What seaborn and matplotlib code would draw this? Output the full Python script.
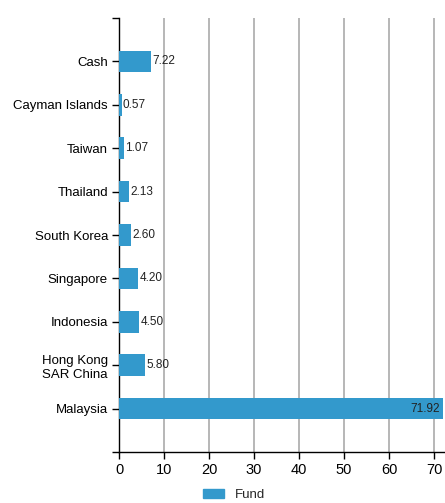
import matplotlib
matplotlib.use('Agg')
import matplotlib.pyplot as plt
import seaborn as sns
from matplotlib.patches import Patch

# data
categories = ['Cash', 'Cayman Islands', 'Taiwan', 'Thailand', 'South Korea',
              'Singapore', 'Indonesia', 'Hong Kong\nSAR China', 'Malaysia']
values = [7.22, 0.57, 1.07, 2.13, 2.60, 4.20, 4.50, 5.80, 71.92]
value_labels = ['7.22', '0.57', '1.07', '2.13', '2.60', '4.20', '4.50', '5.80', '71.92']
x_ticks = [0, 10, 20, 30, 40, 50, 60, 70]
series_name = 'Fund'
bar_color = '#3399cc'

sns.set_style('white')
plt.rcParams['font.family'] = ['Liberation Sans', 'DejaVu Sans']

fig = plt.figure(figsize=(4.45, 5.03), dpi=100)
# axes runs off the right edge like the reference
ax = fig.add_axes([119 / 445, 51 / 503, 334 / 445, 434 / 503])

sns.barplot(x=values, y=categories, color=bar_color, orient='h', width=0.5,
            saturation=1, linewidth=0, edgecolor='none', ax=ax, zorder=3)

ax.set_xlim(0, 74.2)
ax.set_ylim(8 + 1, -1)
ax.set_xticks(x_ticks)
ax.set_xticklabels([str(t) for t in x_ticks], fontsize=10.5, color='black')
ax.set_yticks(range(len(categories)))
ax.set_yticklabels(categories, fontsize=9.5, color='black')
ax.tick_params(axis='y', left=True, length=5, width=1, color='black', pad=3)
ax.tick_params(axis='x', bottom=True, length=5, width=1, color='black', pad=3)
ax.set_yticks([-1, 9], minor=True)
ax.tick_params(axis='y', which='minor', left=True, length=5, width=1, color='black')

for x in x_ticks[1:]:
    ax.axvline(x, color='#aaaaaa', lw=1.2, zorder=1)

for s in ['top', 'right']:
    ax.spines[s].set_visible(False)
for s in ['left', 'bottom']:
    ax.spines[s].set_color('black')
    ax.spines[s].set_linewidth(1)

# value labels
for i, (v, lab) in enumerate(zip(values, value_labels)):
    if v > 60:
        ax.text(v - 0.6, i, lab, va='center', ha='right', fontsize=8.5, color='#222222', zorder=4)
    else:
        ax.text(v + 0.3, i, lab, va='center', ha='left', fontsize=8.5, color='#222222', zorder=4)

ax.set_xlabel('')
ax.set_ylabel('')

fig.legend(handles=[Patch(color=bar_color, label=series_name)], loc='upper left',
           bbox_to_anchor=(195 / 445, 22 / 503), frameon=False, fontsize=9.5,
           handlelength=1.6, handleheight=0.7, borderpad=0.1)

fig.savefig('out.png', dpi=100)
